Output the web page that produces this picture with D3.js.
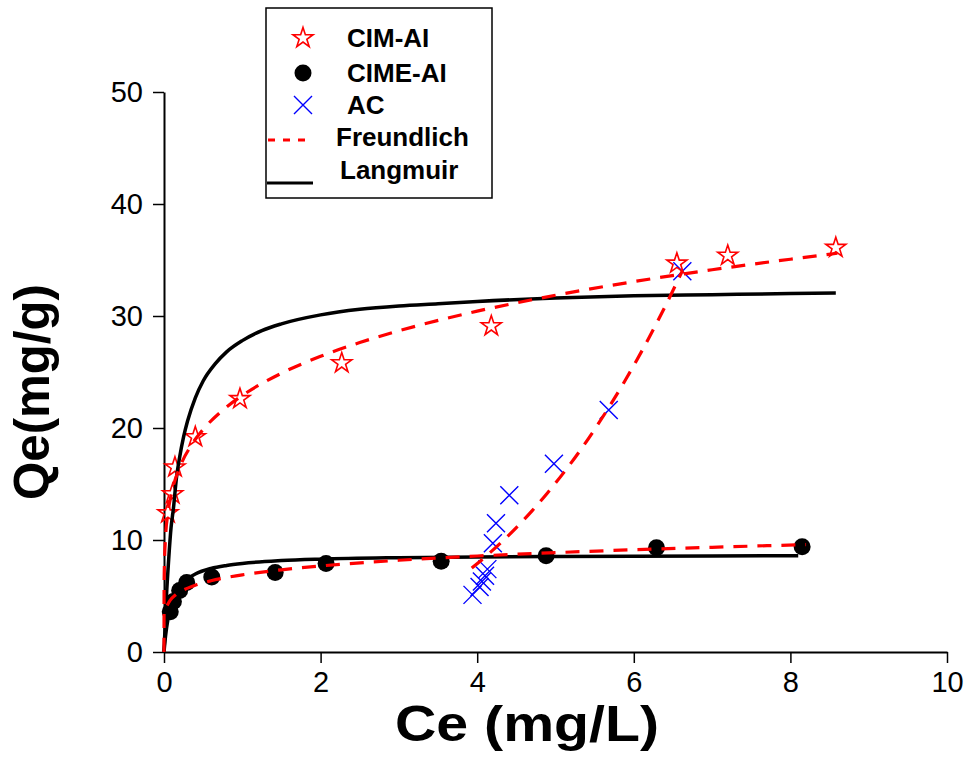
<!DOCTYPE html>
<html>
<head>
<meta charset="utf-8">
<script src="https://cdn.jsdelivr.net/npm/d3@7"></script>
<style>
  html, body { margin: 0; padding: 0; background: #fff; }
  svg { display: block; }
  text { font-family: "Liberation Sans", Arial, sans-serif; }
</style>
</head>
<body>
<svg id="chart" width="970" height="769"></svg>
<script>
// ---- Data ----
const cimX = [0.05, 0.11, 0.14, 0.40, 0.97, 2.27, 4.18, 6.55, 7.20, 8.58];
const cimY = [12.4, 14.1, 16.5, 19.2, 22.6, 25.8, 29.1, 34.7, 35.4, 36.1];

const cimeX = [0.08, 0.12, 0.20, 0.29, 0.61, 1.42, 2.07, 3.54, 4.88, 6.29, 8.15];
const cimeY = [3.6, 4.5, 5.5, 6.2, 6.7, 7.1, 7.9, 8.1, 8.6, 9.3, 9.4];

const acX = [3.94, 4.03, 4.06, 4.10, 4.13, 4.20, 4.24, 4.41, 4.98, 5.68, 6.62];
const acY = [5.1, 5.8, 6.3, 6.8, 7.4, 9.7, 11.5, 14.0, 16.8, 21.6, 34.0];

// fitted curves
const langCimX = [0, 0.03, 0.06, 0.09, 0.12, 0.16, 0.2, 0.25, 0.3, 0.4, 0.5, 0.65, 0.8, 1.0, 1.25, 1.5, 2, 2.5, 3, 3.5, 4, 5, 6, 7, 8, 8.58];
const langCimY = [0, 4.8, 8.3, 11.1, 12.8, 15.6, 17.4, 19.2, 20.6, 22.7, 24.2, 25.7, 26.8, 27.8, 28.7, 29.3, 30.1, 30.6, 30.9, 31.1, 31.3, 31.6, 31.8, 31.9, 32.0, 32.05];

const langCimeX = [0, 0.02, 0.05, 0.1, 0.15, 0.2, 0.3, 0.4, 0.6, 0.8, 1.0, 1.5, 2, 3, 4, 5, 6, 7, 8.1];
const langCimeY = [0, 1.45, 2.9, 4.35, 5.22, 5.8, 6.53, 6.96, 7.46, 7.73, 7.91, 8.16, 8.29, 8.42, 8.49, 8.53, 8.56, 8.58, 8.59];

const frCimX = [0, 0.001, 0.005, 0.02, 0.05, 0.1, 0.2, 0.35, 0.5, 0.75, 1, 1.5, 2, 2.5, 3, 4, 5, 6, 7, 8, 8.6];
const frCimY = [0, 5.56, 7.73, 10.27, 12.39, 14.28, 16.46, 18.47, 19.87, 21.59, 22.9, 24.89, 26.40, 27.63, 28.68, 30.43, 31.85, 33.07, 34.13, 35.07, 35.60];

const frCimeX = [0.04, 0.08, 0.15, 0.25, 0.4, 0.6, 0.8, 1, 1.5, 2, 3, 4, 5, 6, 7, 8.2];
const frCimeY = [4.16, 4.63, 5.12, 5.54, 5.97, 6.36, 6.65, 6.89, 7.34, 7.68, 8.19, 8.57, 8.87, 9.13, 9.35, 9.59];

const frAcX = [3.93, 4.1, 4.3, 4.5, 4.7, 4.9, 5.1, 5.3, 5.5, 5.7, 5.9, 6.1, 6.3, 6.5, 6.62];
const frAcY = [7.5, 8.48, 9.74, 11.11, 12.60, 14.22, 15.97, 17.85, 19.88, 22.05, 24.37, 26.84, 29.47, 32.27, 34.03];

const xMajor = [0, 2, 4, 6, 8, 10];
const xMinor = [1, 3, 5, 7, 9];
const yMajor = [0, 10, 20, 30, 40, 50];
const yMinor = [5, 15, 25, 35, 45];

const legendLabels = ["CIM-AI", "CIME-AI", "AC", "Freundlich", "Langmuir"];

// ---- Layout ----
const svg = d3.select("#chart");
const x = d3.scaleLinear().domain([0, 10]).range([164, 947]);
const y = d3.scaleLinear().domain([0, 50]).range([652, 92]);

const zip = (xs, ys) => xs.map((v, i) => [v, ys[i]]);
const line = d3.line().x(d => x(d[0])).y(d => y(d[1])).curve(d3.curveMonotoneX);

// axes
const gx = svg.append("g").attr("transform", `translate(0,${y(0)})`);
gx.call(d3.axisBottom(x).tickValues(xMinor).tickSize(6).tickSizeOuter(0).tickFormat(""));
gx.call(d3.axisBottom(x).tickValues(xMajor).tickSize(11).tickSizeOuter(0).tickPadding(8).tickFormat(d3.format("d")));
gx.selectAll("path.domain").attr("stroke", "#000").attr("stroke-width", 2);
gx.selectAll(".tick line").attr("stroke", "#000").attr("stroke-width", 1.5);
gx.selectAll(".tick text").attr("font-size", 29).attr("fill", "#000").attr("font-family", "Liberation Sans, Arial, sans-serif");

const gy = svg.append("g").attr("transform", `translate(${x(0)},0)`);
gy.call(d3.axisLeft(y).tickValues(yMinor).tickSize(6).tickSizeOuter(0).tickFormat(""));
gy.call(d3.axisLeft(y).tickValues(yMajor).tickSize(11).tickSizeOuter(0).tickPadding(10).tickFormat(d3.format("d")));
gy.selectAll("path.domain").attr("stroke", "#000").attr("stroke-width", 2);
gy.selectAll(".tick line").attr("stroke", "#000").attr("stroke-width", 1.5);
gy.selectAll(".tick text").attr("font-size", 29).attr("fill", "#000").attr("font-family", "Liberation Sans, Arial, sans-serif");

// axis titles
svg.append("text").attr("x", 527).attr("y", 741).attr("text-anchor", "middle")
  .attr("font-size", 50).attr("font-weight", "bold")
  .attr("textLength", 264).attr("lengthAdjust", "spacingAndGlyphs").text("Ce (mg/L)");
svg.append("text").attr("transform", "translate(49,392) rotate(-90)").attr("text-anchor", "middle")
  .attr("font-size", 50).attr("font-weight", "bold")
  .attr("textLength", 216).attr("lengthAdjust", "spacingAndGlyphs").text("Qe(mg/g)");

// markers
const starPath = d3.symbol().type(d3.symbolStar).size(125)();
const crossPath = "M-9,-9L9,9M-9,9L9,-9";

const gm = svg.append("g");
gm.selectAll("circle.cime").data(zip(cimeX, cimeY)).join("circle")
  .attr("cx", d => x(d[0])).attr("cy", d => y(d[1])).attr("r", 8.5).attr("fill", "#000");
gm.selectAll("path.ac").data(zip(acX, acY)).join("path")
  .attr("transform", d => `translate(${x(d[0])},${y(d[1])})`).attr("d", crossPath)
  .attr("stroke", "#0000ff").attr("stroke-width", 1.4).attr("fill", "none");
gm.selectAll("path.cim").data(zip(cimX, cimY)).join("path")
  .attr("transform", d => `translate(${x(d[0])},${y(d[1])})`).attr("d", starPath)
  .attr("stroke", "#ff0000").attr("stroke-width", 1.6).attr("fill", "none");

// curves
const gl = svg.append("g").attr("fill", "none");
[[langCimX, langCimY], [langCimeX, langCimeY]].forEach(([xs, ys]) => {
  gl.append("path").attr("d", line(zip(xs, ys))).attr("stroke", "#000").attr("stroke-width", 3.5);
});
[[frCimX, frCimY], [frCimeX, frCimeY], [frAcX, frAcY]].forEach(([xs, ys]) => {
  gl.append("path").attr("d", line(zip(xs, ys))).attr("stroke", "#ff0000").attr("stroke-width", 3.2)
    .attr("stroke-dasharray", "14,10");
});

// legend
const lg = svg.append("g");
lg.append("rect").attr("x", 266).attr("y", 8).attr("width", 226).attr("height", 190)
  .attr("fill", "#fff").attr("stroke", "#000").attr("stroke-width", 1.5);
lg.append("path").attr("transform", "translate(303,38)").attr("d", starPath)
  .attr("stroke", "#ff0000").attr("stroke-width", 1.6).attr("fill", "none");
lg.append("circle").attr("cx", 303).attr("cy", 73).attr("r", 8.5).attr("fill", "#000");
lg.append("path").attr("transform", "translate(303,105)").attr("d", crossPath)
  .attr("stroke", "#0000ff").attr("stroke-width", 1.4).attr("fill", "none");
lg.append("line").attr("x1", 268).attr("x2", 312).attr("y1", 140).attr("y2", 140)
  .attr("stroke", "#ff0000").attr("stroke-width", 3).attr("stroke-dasharray", "7,8");
lg.append("line").attr("x1", 267).attr("x2", 313).attr("y1", 183).attr("y2", 183)
  .attr("stroke", "#000").attr("stroke-width", 3);
const lx = [347, 347, 347, 336, 340];
const ly = [47, 82, 114, 146, 179];
legendLabels.forEach((t, i) => {
  lg.append("text").attr("x", lx[i]).attr("y", ly[i]).attr("font-size", 26).attr("font-weight", "bold").text(t);
});
</script>
</body>
</html>
